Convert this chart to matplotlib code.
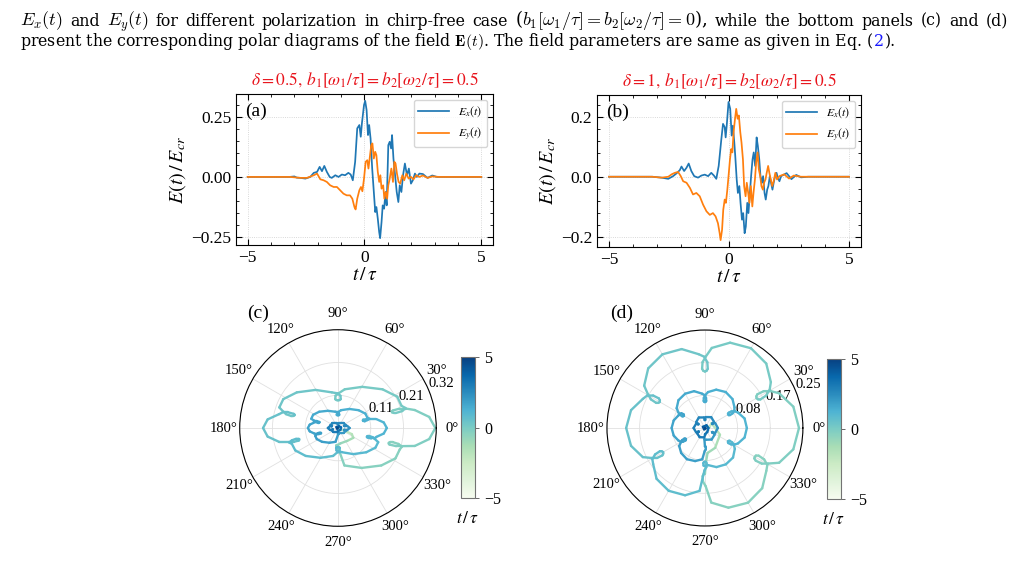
import numpy as np
import matplotlib
matplotlib.use("Agg")
import matplotlib.pyplot as plt
from matplotlib.collections import LineCollection
from matplotlib.colors import Normalize
from matplotlib.ticker import AutoMinorLocator

plt.rcParams['font.family'] = 'serif'
plt.rcParams['font.serif'] = ['Liberation Serif', 'DejaVu Serif']
plt.rcParams['mathtext.fontset'] = 'stix'

# ---- panel (a): delta = 0.5 ----
a_ex_t = [-5, -3.2, -3.0, -2.9, -2.74, -2.53, -2.32, -2.17, -2.03, -1.92, -1.82, -1.72, -1.61, -1.49,
          -1.40, -1.25, -1.11, -0.97, -0.83, -0.69, -0.59, -0.50, -0.40, -0.31, -0.22, -0.16, -0.11,
          -0.02, 0.03, 0.09, 0.15, 0.20, 0.26, 0.33, 0.40, 0.46, 0.51, 0.57, 0.63, 0.67, 0.73, 0.78,
          0.84, 0.90, 0.95, 1.02, 1.08, 1.14, 1.18, 1.24, 1.31, 1.38, 1.45, 1.51, 1.58, 1.65, 1.73,
          1.82, 1.90, 1.99, 2.07, 2.16, 2.24, 2.35, 2.5, 2.7, 2.9, 3.1, 3.4, 5]
a_ex = [0, 0, 0.002, -0.003, -0.004, -0.007, 0.0, 0.017, 0.021, 0.042, 0.024, 0.046, 0.021, 0.0,
        -0.004, 0.007, 0.0, 0.010, 0.007, 0.017, 0.010, -0.014, 0.063, 0.203, 0.217, 0.168, 0.224,
        0.301, 0.318, 0.28, 0.175, 0.217, 0.161, 0.035, -0.063, -0.147, -0.126, -0.175, -0.231, -0.256,
        -0.189, -0.119, -0.133, -0.063, -0.119, 0.133, 0.147, 0.119, 0.175, 0.077, 0.007, -0.063,
        -0.105, -0.035, -0.063, 0.007, 0.056, 0.007, 0.035, -0.028, -0.014, 0.014, 0.0, 0.014, 0.012,
        -0.004, 0.006, 0.0, 0.0, 0.0]
a_ey_t = [-5, -3.2, -2.74, -2.46, -2.17, -2.03, -1.89, -1.75, -1.61, -1.47, -1.32, -1.18, -1.04, -0.90,
          -0.76, -0.62, -0.52, -0.43, -0.38, -0.31, -0.22, -0.15, -0.09, -0.02, 0.05, 0.12, 0.17, 0.23,
          0.29, 0.34, 0.40, 0.46, 0.51, 0.57, 0.63, 0.68, 0.73, 0.80, 0.85, 0.91, 0.97, 1.02, 1.08, 1.15,
          1.22, 1.28, 1.33, 1.39, 1.46, 1.53, 1.62, 1.70, 1.79, 1.89, 1.99, 2.10, 2.21, 2.35, 2.5, 2.7,
          2.9, 3.2, 5]
a_ey = [0, 0, -0.004, -0.004, 0.007, 0.014, -0.010, -0.014, -0.021, -0.035, -0.042, -0.042, -0.056,
        -0.070, -0.077, -0.077, -0.091, -0.126, -0.136, -0.091, -0.056, -0.042, -0.060, -0.007, 0.063,
        0.070, 0.035, 0.084, 0.133, 0.140, 0.077, 0.105, 0.091, 0.021, -0.021, 0.007, -0.049, -0.035,
        -0.091, -0.063, -0.091, -0.035, -0.007, 0.035, -0.021, 0.063, 0.056, 0.014, -0.021, -0.028,
        0.007, -0.014, 0.014, -0.007, 0.0, -0.010, 0.007, 0.0, 0.006, -0.004, 0.002, 0.0, 0.0]

# ---- panel (b): delta = 1 ----
b_ex_t = [-5, -3.2, -2.81, -2.53, -2.33, -2.19, -2.05, -1.98, -1.87, -1.77, -1.68, -1.57, -1.45, -1.29,
          -1.15, -1.01, -0.87, -0.74, -0.63, -0.53, -0.43, -0.32, -0.25, -0.18, -0.14, -0.09, -0.02,
          0.05, 0.11, 0.16, 0.22, 0.26, 0.32, 0.37, 0.43, 0.48, 0.54, 0.59, 0.65, 0.70, 0.76, 0.81,
          0.87, 0.92, 0.98, 1.03, 1.09, 1.15, 1.20, 1.26, 1.31, 1.37, 1.42, 1.48, 1.53, 1.59, 1.64,
          1.70, 1.75, 1.81, 1.86, 1.92, 1.98, 2.03, 2.10, 2.17, 2.4, 2.6, 2.8, 3.0, 3.3, 5]
b_ex = [0, 0, -0.003, -0.007, 0.002, 0.011, 0.022, 0.034, 0.019, 0.030, 0.044, 0.019, 0.002, -0.003,
        0.004, 0.007, 0.002, 0.013, 0.004, -0.007, 0.036, 0.125, 0.176, 0.165, 0.131, 0.176, 0.249,
        0.226, 0.137, 0.170, 0.114, 0.069, -0.009, -0.054, -0.031, -0.087, -0.143, -0.121, -0.188,
        -0.166, -0.087, -0.121, -0.054, 0.002, 0.058, 0.081, 0.036, 0.131, 0.103, 0.058, 0.002, -0.020,
        0.002, -0.054, -0.076, -0.043, -0.031, 0.002, -0.020, -0.043, -0.020, 0.002, 0.013, -0.003,
        -0.015, 0.002, 0.012, -0.008, 0.006, -0.002, 0.0, 0.0]
b_ey_t = [-5, -3.2, -2.81, -2.53, -2.39, -2.26, -2.12, -2.01, -1.91, -1.77, -1.63, -1.50, -1.36, -1.22,
          -1.08, -0.94, -0.80, -0.67, -0.56, -0.46, -0.39, -0.35, -0.29, -0.24, -0.18, -0.13, -0.07,
          -0.02, 0.04, 0.09, 0.14, 0.19, 0.25, 0.30, 0.36, 0.41, 0.47, 0.52, 0.58, 0.63, 0.69, 0.74,
          0.80, 0.85, 0.91, 0.97, 1.02, 1.08, 1.13, 1.19, 1.24, 1.30, 1.35, 1.41, 1.46, 1.52, 1.57,
          1.63, 1.68, 1.74, 1.80, 1.86, 1.93, 2.00, 2.10, 2.3, 2.5, 2.7, 3.0, 3.3, 5]
b_ey = [0, 0, -0.003, 0.0, 0.008, 0.013, 0.016, 0.002, -0.015, -0.020, -0.037, -0.059, -0.054, -0.065,
        -0.093, -0.115, -0.127, -0.121, -0.132, -0.155, -0.188, -0.211, -0.177, -0.110, -0.076, -0.087,
        -0.043, 0.002, 0.058, 0.092, 0.081, 0.148, 0.193, 0.226, 0.193, 0.204, 0.148, 0.114, 0.058,
        -0.031, -0.065, -0.020, -0.054, -0.087, -0.031, -0.099, -0.054, -0.009, 0.047, 0.081, 0.025,
        0.002, -0.031, -0.043, -0.020, -0.009, 0.013, 0.036, 0.013, -0.009, -0.031, -0.015, 0.013,
        -0.009, 0.002, 0.008, -0.006, 0.004, 0.0, 0.0, 0.0]

# ---- panel (c): field tip (Ex, Ey), traced lobe by lobe (14 points per lobe) ----
c_pre_x = [0, 0.004, 0.010, 0.025, 0.045, 0.050, 0.030, 0.008, 0.0]
c_pre_y = [0, 0.001, -0.004, -0.010, -0.020, -0.032, -0.042, -0.050, -0.055]
c_pre_t = [-5, -3, -2.6, -2.2, -1.8, -1.4, -1.0, -0.7, -0.5]
c_outer_x = [-0.003, -0.006, -0.005, 0.002, 0.021, 0.077, 0.141, 0.187, 0.201, 0.208, 0.197, 0.178, 0.170, 0.165,
             0.165, 0.168, 0.189, 0.210, 0.250, 0.297, 0.317, 0.297, 0.250, 0.223, 0.200, 0.179, 0.175, 0.176,
             0.181, 0.189, 0.209, 0.220, 0.207, 0.193, 0.145, 0.079, 0.022, 0.002, -0.008, -0.009, -0.005, 0.0,
             0.005, 0.009, 0.008, -0.002, -0.020, -0.073, -0.134, -0.178, -0.191, -0.178, -0.169, -0.152, -0.146, -0.142,
             -0.141, -0.144, -0.162, -0.180, -0.192, -0.229, -0.244, -0.229, -0.192, -0.161, -0.144, -0.128, -0.126, -0.126,
             -0.130, -0.136, -0.150, -0.159, -0.150, -0.139, -0.105, -0.057, -0.016, -0.002, 0.005, 0.006, 0.004, 0.0]
c_outer_y = [-0.055, -0.057, -0.064, -0.069, -0.122, -0.130, -0.122, -0.099, -0.070, -0.061, -0.052, -0.046, -0.046, -0.048,
             -0.051, -0.054, -0.059, -0.059, -0.0585, -0.036, 0.0, 0.036, 0.0585, 0.063, 0.063, 0.057, 0.054, 0.051,
             0.049, 0.049, 0.055, 0.065, 0.072, 0.102, 0.126, 0.134, 0.126, 0.113, 0.105, 0.094, 0.091, 0.090,
             0.091, 0.094, 0.105, 0.113, 0.116, 0.124, 0.116, 0.094, 0.067, 0.053, 0.045, 0.039, 0.039, 0.041,
             0.043, 0.046, 0.051, 0.051, 0.045, 0.028, 0.0, -0.028, -0.045, -0.045, -0.045, -0.041, -0.039, -0.036,
             -0.035, -0.035, -0.040, -0.047, -0.052, -0.073, -0.091, -0.097, -0.091, -0.079, -0.073, -0.065, -0.063, -0.062]
c_mid_x = [-0.004, -0.006, -0.005, 0.002, 0.014, 0.050, 0.092, 0.122, 0.131, 0.119, 0.113, 0.102, 0.097, 0.095,
           0.094, 0.096, 0.108, 0.120, 0.125, 0.149, 0.159, 0.149, 0.125, 0.103, 0.093, 0.082, 0.081, 0.081,
           0.083, 0.087, 0.096, 0.102, 0.096, 0.089, 0.067, 0.037, 0.010, 0.001, -0.003, -0.004, -0.002, 0.0,
           0.002, 0.004, 0.003, -0.001, -0.009, -0.033, -0.061, -0.081, -0.087, -0.076, -0.072, -0.065, -0.063, -0.061,
           -0.060, -0.062, -0.069, -0.077, -0.077, -0.092, -0.098, -0.092, -0.077, -0.070, -0.063, -0.056, -0.055, -0.055,
           -0.057, -0.060, -0.066, -0.070, -0.074, -0.069, -0.052, -0.028, -0.008, 0.0, 0.001, 0.002, 0.001, 0.0]
c_mid_y = [-0.063, -0.065, -0.073, -0.079, -0.079, -0.085, -0.079, -0.064, -0.046, -0.035, -0.030, -0.026, -0.026, -0.027,
           -0.029, -0.031, -0.034, -0.034, -0.029, -0.018, 0.0, 0.018, 0.029, 0.029, 0.029, 0.027, 0.025, 0.023,
           0.023, 0.022, 0.026, 0.030, 0.033, 0.047, 0.058, 0.062, 0.058, 0.052, 0.048, 0.043, 0.041, 0.041,
           0.041, 0.043, 0.048, 0.052, 0.053, 0.056, 0.053, 0.043, 0.030, 0.023, 0.019, 0.017, 0.017, 0.018,
           0.019, 0.020, 0.022, 0.022, 0.018, 0.011, 0.0, -0.011, -0.018, -0.020, -0.020, -0.018, -0.017, -0.016,
           -0.015, -0.015, -0.017, -0.021, -0.026, -0.036, -0.045, -0.048, -0.045, -0.022, -0.020, -0.018, -0.018, -0.018]
c_inner_x = [-0.001, 0.003, 0.018, 0.026, 0.022, 0.020,
             0.021, 0.030, 0.038, 0.030, 0.021, 0.021,
             0.022, 0.026, 0.018, 0.003, -0.001, 0.0,
             0.001, -0.003, -0.018, -0.025, -0.021, -0.020,
             -0.019, -0.026, -0.033, -0.026, -0.019, -0.018,
             -0.017, -0.021, -0.015, -0.002, 0.001, 0.0]
c_inner_y = [-0.012, -0.016, -0.016, -0.009, -0.006, -0.006,
             -0.007, -0.007, 0.0, 0.007, 0.007, 0.006,
             0.006, 0.009, 0.016, 0.016, 0.012, 0.012,
             0.012, 0.015, 0.015, 0.009, 0.005, 0.006,
             0.006, 0.006, 0.0, -0.006, -0.006, -0.005,
             -0.004, -0.007, -0.013, -0.013, -0.010, -0.009]
c_tail_x = [0.008, 0.010, 0.003, -0.005, -0.003, 0.0]
c_tail_y = [-0.006, 0.002, 0.006, 0.003, -0.002, 0.0]
c_tail_t = [3.4, 3.6, 3.8, 4.1, 4.5, 5]

# ---- panel (d): field tip in polar form (deg, |E|) ----
d_pre_theta = [0, 20, 60, 10, 37, -24, -63, -84, -88, -90]
d_pre_r = [0.0, 0.003, 0.006, 0.012, 0.021, 0.042, 0.057, 0.064, 0.085, 0.117]
d_pre_t = [-5, -3, -2.6, -2.3, -2.0, -1.6, -1.2, -0.9, -0.7, -0.5]
# loop/lobe angles, shared by the outer and middle rings
d_ring_theta = [-91.63, -92.74, -92.08, -89.37, -85.12, -73.57, -60, -46.43, -34.88, -30.63, -27.92, -27.26, -28.37, -30,
                -31.63, -32.74, -32.08, -29.37, -25.12, -13.57, 0, 13.57, 25.12, 29.37, 32.08, 32.74, 31.63, 30,
                28.37, 27.26, 27.92, 30.63, 34.88, 46.43, 60, 73.57, 85.12, 89.37, 92.08, 92.74, 91.63, 90,
                88.37, 87.26, 87.92, 90.63, 94.88, 106.43, 120, 133.57, 145.12, 149.37, 152.08, 152.74, 151.63, 150,
                148.37, 147.26, 147.92, 150.63, 154.88, 166.43, 180, 193.57, 205.12, 209.37, 212.08, 212.74, 211.63, 210,
                208.37, 207.26, 207.92, 210.63, 214.88, 226.43, 240, 253.57, 265.12, 269.37, 272.08, 272.74, 271.63, 270]
d_outer_r = [0.118, 0.123, 0.137, 0.148, 0.191, 0.212, 0.220, 0.212, 0.191, 0.185, 0.171, 0.154, 0.148, 0.147,
             0.148, 0.154, 0.171, 0.185, 0.209, 0.232, 0.240, 0.232, 0.209, 0.192, 0.177, 0.159, 0.154, 0.152,
             0.154, 0.159, 0.177, 0.192, 0.205, 0.227, 0.235, 0.227, 0.205, 0.182, 0.168, 0.151, 0.146, 0.144,
             0.146, 0.151, 0.168, 0.182, 0.189, 0.210, 0.217, 0.210, 0.189, 0.169, 0.156, 0.140, 0.135, 0.133,
             0.135, 0.140, 0.156, 0.169, 0.175, 0.194, 0.201, 0.194, 0.175, 0.156, 0.144, 0.129, 0.125, 0.123,
             0.125, 0.129, 0.144, 0.156, 0.161, 0.179, 0.185, 0.179, 0.161, 0.108, 0.100, 0.090, 0.087, 0.086]
d_mid_r = [0.087, 0.090, 0.096, 0.097, 0.095, 0.104, 0.107, 0.104, 0.093, 0.086, 0.079, 0.071, 0.069, 0.068,
           0.069, 0.071, 0.079, 0.086, 0.093, 0.104, 0.107, 0.104, 0.093, 0.087, 0.080, 0.072, 0.069, 0.069,
           0.069, 0.072, 0.080, 0.087, 0.092, 0.102, 0.106, 0.102, 0.092, 0.084, 0.077, 0.069, 0.067, 0.066,
           0.067, 0.069, 0.077, 0.084, 0.088, 0.098, 0.101, 0.098, 0.088, 0.079, 0.073, 0.065, 0.063, 0.062,
           0.063, 0.065, 0.071, 0.073, 0.075, 0.082, 0.085, 0.082, 0.075, 0.071, 0.066, 0.059, 0.057, 0.056,
           0.057, 0.059, 0.066, 0.071, 0.080, 0.088, 0.092, 0.088, 0.080, 0.059, 0.055, 0.049, 0.047, 0.047]
d_inner_theta = [267.26, 274.88, 300, 325.12, 332.74, 330,
                 327.26, 334.88, 360, 385.12, 392.74, 390,
                 387.26, 394.88, 420, 445.12, 452.74, 450,
                 447.26, 454.88, 480, 505.12, 512.74, 510,
                 507.26, 514.88, 540, 565.12, 572.74, 570,
                 567.26, 574.88, 600, 625.12, 632.74, 630]
d_inner_r = [0.029, 0.030, 0.034, 0.030, 0.022, 0.021,
             0.022, 0.029, 0.033, 0.029, 0.022, 0.021,
             0.022, 0.028, 0.032, 0.028, 0.021, 0.020,
             0.021, 0.027, 0.031, 0.027, 0.020, 0.019,
             0.020, 0.025, 0.029, 0.025, 0.019, 0.018,
             0.019, 0.024, 0.027, 0.024, 0.017, 0.016]
d_tail_theta = [660, 720, 780, 870, 960, 1050, 1110]
d_tail_r = [0.012, 0.009, 0.008, 0.006, 0.004, 0.002, 0.0]
d_tail_t = [3.4, 3.6, 3.8, 4.0, 4.3, 4.6, 5]

# time of each lobe (same pulse timing in both polar panels)
outer_lobe_t = [-0.34, -0.12, 0.10, 0.32, 0.54, 0.76]
mid_lobe_t = [0.96, 1.15, 1.34, 1.53, 1.72, 1.91]
inner_lobe_t = [2.1, 2.3, 2.5, 2.7, 2.9, 3.1]


def line_panel(ax, tx, ex, ty, ey, title, tag, yticks):
    ax.plot(tx, ex, color='#1f77b4', lw=1.25, label=r'$E_x(t)$')
    ax.plot(ty, ey, color='#ff7f0e', lw=1.25, label=r'$E_y(t)$')
    ax.set_xticks([-5, 0, 5])
    ax.set_yticks(yticks)
    ax.xaxis.set_minor_locator(AutoMinorLocator(5))
    ax.yaxis.set_minor_locator(AutoMinorLocator(5))
    ax.tick_params(which='both', direction='in', top=True, right=True, labelsize=12.5)
    ax.tick_params(which='major', length=4)
    ax.tick_params(which='minor', length=2)
    ax.grid(True, ls=':', color='0.8', lw=0.6)
    ax.set_xlabel(r'$t\,/\,\tau$', fontsize=14, labelpad=1)
    ax.set_ylabel(r'$E(t)\,/\,E_{cr}$', fontsize=14.5, labelpad=2)
    ax.set_title(title, color='#e8141c', fontsize=12.5, pad=6)
    ax.text(0.035, 0.94, tag, transform=ax.transAxes, va='top', fontsize=14)
    ax.legend(loc='upper right', fontsize=8.5, handlelength=2.6)


def polar_panel(ax, cax, theta, r, t, rmax):
    pts = np.column_stack([theta, r])
    segs = np.stack([pts[:-1], pts[1:]], axis=1)
    lc = LineCollection(segs, cmap='GnBu', norm=Normalize(-5, 5), lw=1.7,
                        joinstyle='round', capstyle='round')
    lc.set_array(0.5 * (t[:-1] + t[1:]))
    ax.add_collection(lc, autolim=False)
    ax.set_ylim(0, rmax)
    ticks = np.linspace(0, rmax, 4)[1:]
    ax.set_yticks(ticks)
    ax.set_yticklabels([f'{v:.2f}' for v in ticks])
    ax.set_thetagrids(range(0, 360, 30))
    ax.tick_params(labelsize=10.5, pad=1)
    ax.grid(True, color='0.88', lw=0.6)
    ax.spines['polar'].set_linewidth(0.8)
    cb = plt.colorbar(lc, cax=cax, ticks=[-5, 0, 5])
    cb.outline.set_edgecolor('0.45')
    cb.outline.set_linewidth(0.8)
    cb.ax.tick_params(labelsize=11.5, length=3, width=0.6, color='0.3')
    cb.ax.text(0.5, -0.09, r'$t\,/\,\tau$', transform=cb.ax.transAxes,
               ha='center', va='top', fontsize=12.5)


fig = plt.figure(figsize=(10.27, 5.75), dpi=100)

ax_a = fig.add_axes([0.2298, 0.5739, 0.2502, 0.2626])
ax_b = fig.add_axes([0.5813, 0.5704, 0.2571, 0.2643])
line_panel(ax_a, a_ex_t, a_ex, a_ey_t, a_ey,
           r'$\delta=0.5,\, b_1[\omega_1/\tau]=b_2[\omega_2/\tau]=0.5$', '(a)', [-0.25, 0, 0.25])
line_panel(ax_b, b_ex_t, b_ex, b_ey_t, b_ey,
           r'$\delta=1,\, b_1[\omega_1/\tau]=b_2[\omega_2/\tau]=0.5$', '(b)', [-0.2, 0, 0.2])

ax_c = fig.add_axes([0.2334, 0.0847, 0.1914, 0.3419], projection='polar')
cax_c = fig.add_axes([0.4489, 0.1334, 0.0136, 0.2449])
cx = np.concatenate([c_pre_x, c_outer_x, c_mid_x, c_inner_x, c_tail_x])
cy = np.concatenate([c_pre_y, c_outer_y, c_mid_y, c_inner_y, c_tail_y])
ct = np.concatenate([c_pre_t, np.repeat(outer_lobe_t, 14), np.repeat(mid_lobe_t, 14),
                     np.repeat(inner_lobe_t, 6), c_tail_t])
polar_panel(ax_c, cax_c, np.arctan2(cy, cx), np.hypot(cx, cy), ct, 0.32)

ax_d = fig.add_axes([0.5910, 0.0852, 0.1908, 0.3409], projection='polar')
cax_d = fig.add_axes([0.8053, 0.1322, 0.0136, 0.2435])
dth = np.deg2rad(np.concatenate([d_pre_theta, d_ring_theta, d_ring_theta, d_inner_theta, d_tail_theta]))
dr = np.concatenate([d_pre_r, d_outer_r, d_mid_r, d_inner_r, d_tail_r])
dt = np.concatenate([d_pre_t, np.repeat(outer_lobe_t, 14), np.repeat(mid_lobe_t, 14),
                     np.repeat(inner_lobe_t, 6), d_tail_t])
polar_panel(ax_d, cax_d, dth, dr, dt, 0.25)

fig.text(247 / 1027, 1 - 318 / 575, '(c)', fontsize=14)
fig.text(610 / 1027, 1 - 318 / 575, '(d)', fontsize=14)

# caption lines of the page: second line sets the font size (it ends near x=893),
# the first line is justified to the full text width
renderer = fig.canvas.get_renderer()
cap_kw = dict(va='baseline', math_fontfamily='cm', family='DejaVu Serif')
pieces2 = [(r'present the corresponding polar diagrams of the field $\mathbf{E}(t)$. '
            r'The field parameters are same as given in Eq. (', 'black'),
           ('2', '#1a1aff'), (').', 'black')]
probe = fig.text(0, 0, ''.join(p for p, _ in pieces2), fontsize=12, **cap_kw)
cap_fs = 12 * 873 / probe.get_window_extent(renderer).width
probe.remove()

words1 = [r'$E_x(t)$', 'and', r'$E_y(t)$', 'for', 'different', 'polarization', 'in', 'chirp-free',
          'case', r'($b_1[\omega_1/\tau] = b_2[\omega_2/\tau] = 0$),', 'while', 'the', 'bottom',
          'panels', '(c)', 'and', '(d)']
items = [fig.text(0, 1 - 25.5 / 575, w, fontsize=cap_fs * (1.15 if '$' in w else 1.0), **cap_kw)
         for w in words1]
widths = [it.get_window_extent(renderer).width for it in items]
gap = (988 - sum(widths)) / (len(items) - 1)
x = 20.0
for it, w in zip(items, widths):
    it.set_x(x / 1027)
    x += w + gap

x = 20.0
for piece, col in pieces2:
    tt = fig.text(x / 1027, 1 - 46 / 575, piece, fontsize=cap_fs, color=col, **cap_kw)
    x += tt.get_window_extent(renderer).width + 1

fig.savefig('out.png', dpi=100)
